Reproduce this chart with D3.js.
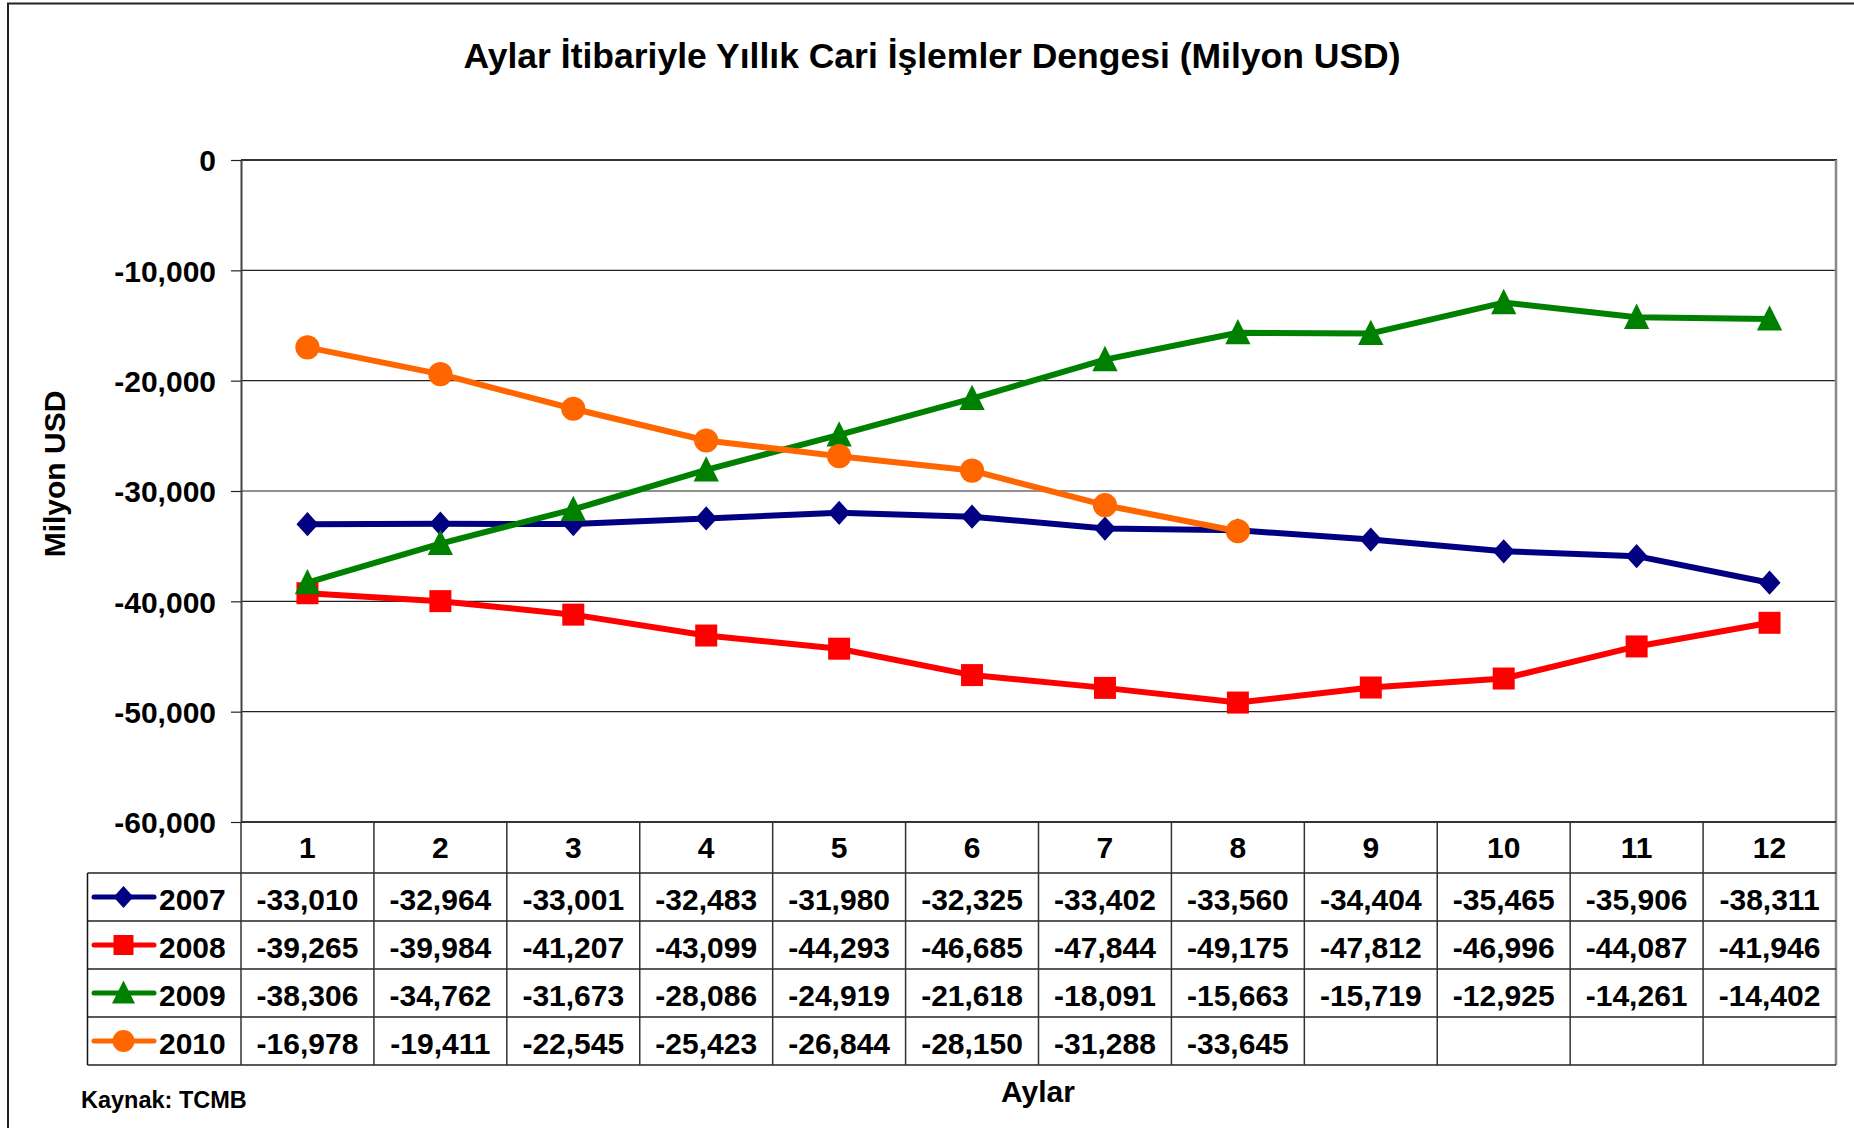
<!DOCTYPE html>
<html>
<head>
<meta charset="utf-8">
<script src="https://cdn.jsdelivr.net/npm/d3@7"></script>
<style>
  html, body { margin: 0; padding: 0; background: #fff; overflow: hidden; }
  svg text { font-family: "Liberation Sans", Arial, sans-serif; font-weight: bold; fill: #000; }
</style>
</head>
<body>
<div id="chart"></div>
<script>
const WIDTH = 1854;
const HEIGHT = 1128;

// data
const months = [1, 2, 3, 4, 5, 6, 7, 8, 9, 10, 11, 12];
const years = ["2007", "2008", "2009", "2010"];
const v2007 = [-33010, -32964, -33001, -32483, -31980, -32325, -33402, -33560, -34404, -35465, -35906, -38311];
const v2008 = [-39265, -39984, -41207, -43099, -44293, -46685, -47844, -49175, -47812, -46996, -44087, -41946];
const v2009 = [-38306, -34762, -31673, -28086, -24919, -21618, -18091, -15663, -15719, -12925, -14261, -14402];
const v2010 = [-16978, -19411, -22545, -25423, -26844, -28150, -31288, -33645];
const yTicks = [0, -10000, -20000, -30000, -40000, -50000, -60000];

const seriesColors = ["#000080", "#ff0000", "#008000", "#ff6600"];
const markerTypes = ["diamond", "square", "triangle", "circle"];

const series = years.map((y, i) => ({
  year: y,
  values: [v2007, v2008, v2009, v2010][i],
  color: seriesColors[i],
  marker: markerTypes[i]
}));

// layout
const PLOT_L = 241, PLOT_R = 1836, PLOT_T = 160, PLOT_B = 822;
const HEAD_H = 51, ROW_H = 48;
const LEG_L = 87.5;

// hyphen minus like the original, not the unicode minus
const loc = d3.formatLocale({ decimal: ".", thousands: ",", grouping: [3], currency: ["$", ""], minus: "-" });
const fmt = loc.format(",");

const svg = d3.select("#chart").append("svg")
  .attr("width", WIDTH)
  .attr("height", HEIGHT);

// outer frame (only top + left are visible)
svg.append("rect")
  .attr("x", 8).attr("y", 3.5)
  .attr("width", WIDTH + 50).attr("height", HEIGHT + 50)
  .attr("fill", "none").attr("stroke", "#222").attr("stroke-width", 2);

const x = d3.scaleBand().domain(months).range([PLOT_L, PLOT_R]);
const y = d3.scaleLinear().domain([-60000, 0]).range([PLOT_B, PLOT_T]);

// gridlines
svg.append("g")
  .selectAll("line")
  .data(yTicks.filter(t => t > -60000 && t < 0))
  .join("line")
  .attr("x1", PLOT_L).attr("x2", PLOT_R)
  .attr("y1", d => y(d)).attr("y2", d => y(d))
  .attr("stroke", "#222").attr("stroke-width", 1.2);

// top border and right border of plot
svg.append("line")
  .attr("x1", PLOT_L).attr("x2", PLOT_R + 1)
  .attr("y1", PLOT_T).attr("y2", PLOT_T)
  .attr("stroke", "#333").attr("stroke-width", 2);
svg.append("line")
  .attr("x1", PLOT_R).attr("x2", PLOT_R)
  .attr("y1", PLOT_T).attr("y2", PLOT_B + HEAD_H + ROW_H * 4)
  .attr("stroke", "#888").attr("stroke-width", 2.5);

// y axis
const yAxis = svg.append("g")
  .attr("transform", `translate(${PLOT_L},0)`)
  .call(d3.axisLeft(y).tickValues(yTicks).tickFormat(fmt).tickSize(10).tickPadding(15).tickSizeOuter(0));
yAxis.select(".domain").attr("stroke", "#444").attr("stroke-width", 2);
yAxis.selectAll(".tick line").attr("stroke", "#222").attr("stroke-width", 1.2);
yAxis.selectAll(".tick text")
  .attr("font-size", 30)
  .attr("font-family", null)
  .attr("fill", "#000")
  .attr("dy", "0.36em");

// table: header row with month numbers
const table = svg.append("g");
const rowTop = i => PLOT_B + HEAD_H + i * ROW_H;

table.append("line")
  .attr("x1", PLOT_L).attr("x2", PLOT_R)
  .attr("y1", PLOT_B).attr("y2", PLOT_B)
  .attr("stroke", "#333").attr("stroke-width", 2);

// horizontal rules of the table
table.selectAll(".hrule")
  .data(d3.range(years.length + 1))
  .join("line")
  .attr("class", "hrule")
  .attr("x1", LEG_L).attr("x2", PLOT_R)
  .attr("y1", d => rowTop(d)).attr("y2", d => rowTop(d))
  .attr("stroke", "#222").attr("stroke-width", 1.5);

// vertical rules
table.selectAll(".vrule")
  .data(months.slice(1))
  .join("line")
  .attr("class", "vrule")
  .attr("x1", d => x(d)).attr("x2", d => x(d))
  .attr("y1", PLOT_B).attr("y2", rowTop(years.length))
  .attr("stroke", "#333").attr("stroke-width", 1.5);
table.append("line")
  .attr("x1", PLOT_L).attr("x2", PLOT_L)
  .attr("y1", PLOT_B).attr("y2", rowTop(years.length))
  .attr("stroke", "#333").attr("stroke-width", 1.5);
table.append("line")
  .attr("x1", LEG_L).attr("x2", LEG_L)
  .attr("y1", rowTop(0)).attr("y2", rowTop(years.length))
  .attr("stroke", "#111").attr("stroke-width", 1.5);

// month labels
table.selectAll(".month")
  .data(months)
  .join("text")
  .attr("class", "month")
  .attr("x", d => x(d) + x.bandwidth() / 2)
  .attr("y", PLOT_B + HEAD_H / 2 + 10)
  .attr("text-anchor", "middle")
  .attr("font-size", 30)
  .text(d => d);

// marker shapes
function markerPath(type, s) {
  const p = d3.path();
  if (type === "diamond") {
    p.moveTo(0, -s * 1.1); p.lineTo(s, 0); p.lineTo(0, s * 1.1); p.lineTo(-s, 0); p.closePath();
  } else if (type === "square") {
    p.rect(-s, -s, 2 * s, 2 * s);
  } else if (type === "triangle") {
    p.moveTo(0, -s * 1.25); p.lineTo(s * 1.15, s * 1.05); p.lineTo(-s * 1.15, s * 1.05); p.closePath();
  } else {
    p.arc(0, 0, s * 1.1, 0, 2 * Math.PI);
  }
  return p.toString();
}

// table value rows + legend keys
series.forEach((s, i) => {
  const cy = rowTop(i) + ROW_H / 2;
  const g = table.append("g");

  g.append("line")
    .attr("x1", 94).attr("x2", 154)
    .attr("y1", cy).attr("y2", cy)
    .attr("stroke", s.color).attr("stroke-width", 5).attr("stroke-linecap", "round");
  g.append("path")
    .attr("transform", `translate(123.5,${cy})`)
    .attr("d", markerPath(s.marker, 10))
    .attr("fill", s.color);
  g.append("text")
    .attr("x", 159).attr("y", cy + 13)
    .attr("font-size", 30)
    .text(s.year);

  g.selectAll(".val")
    .data(s.values)
    .join("text")
    .attr("class", "val")
    .attr("x", (d, j) => x(months[j]) + x.bandwidth() / 2)
    .attr("y", cy + 13)
    .attr("text-anchor", "middle")
    .attr("font-size", 30)
    .text(d => fmt(d));
});

// lines + markers
const line = d3.line()
  .x((d, j) => x(months[j]) + x.bandwidth() / 2)
  .y(d => y(d));

series.forEach(s => {
  svg.append("path")
    .datum(s.values)
    .attr("d", line)
    .attr("fill", "none")
    .attr("stroke", s.color)
    .attr("stroke-width", 6)
    .attr("stroke-linejoin", "round");

  svg.append("g")
    .selectAll("path")
    .data(s.values)
    .join("path")
    .attr("transform", (d, j) => `translate(${x(months[j]) + x.bandwidth() / 2},${y(d)})`)
    .attr("d", markerPath(s.marker, 11))
    .attr("fill", s.color);
});

// titles
svg.append("text")
  .attr("x", 932).attr("y", 68)
  .attr("text-anchor", "middle")
  .attr("font-size", 35.5)
  .text("Aylar İtibariyle Yıllık Cari İşlemler Dengesi (Milyon USD)");

svg.append("text")
  .attr("transform", "translate(65,474) rotate(-90)")
  .attr("text-anchor", "middle")
  .attr("font-size", 30)
  .text("Milyon USD");

svg.append("text")
  .attr("x", 1038).attr("y", 1102)
  .attr("text-anchor", "middle")
  .attr("font-size", 30)
  .text("Aylar");

svg.append("text")
  .attr("x", 81).attr("y", 1108)
  .attr("font-size", 23.5)
  .text("Kaynak: TCMB");
</script>
</body>
</html>
